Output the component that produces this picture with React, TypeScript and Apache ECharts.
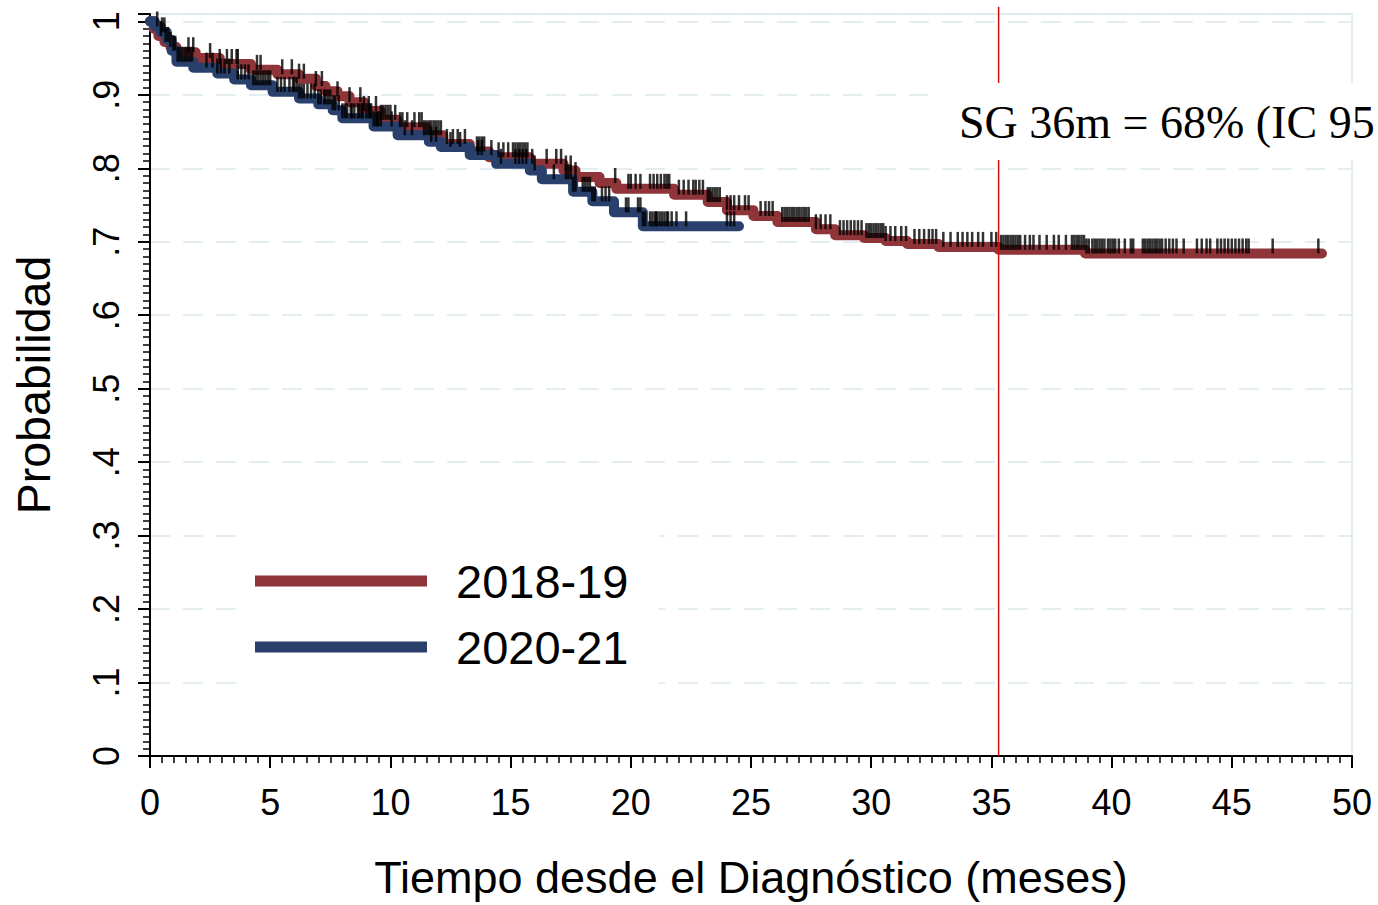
import React, { useEffect, useRef } from "react";
import * as echarts from "echarts";

// Kaplan-Meier step points (time in months, survival probability)
const redTimes = [0, 0.15, 0.35, 0.6, 0.85, 1.1, 1.9, 2.9, 4.2, 5.3, 6.2, 6.9, 7.3, 7.8, 8.3, 8.9, 9.6, 10.3, 11.5, 12.2, 13.3, 14.1, 15.8, 17.2, 17.7, 18.7, 19.4, 21.8, 23.2, 24.0, 25.1, 26.1, 27.7, 28.5, 29.7, 30.6, 31.5, 32.8, 35.3, 38.9, 48.75];
const redSurv = [1.0, 0.99, 0.98, 0.972, 0.965, 0.958, 0.95, 0.942, 0.934, 0.928, 0.922, 0.912, 0.905, 0.898, 0.89, 0.878, 0.866, 0.856, 0.845, 0.833, 0.823, 0.815, 0.806, 0.797, 0.788, 0.78, 0.772, 0.764, 0.754, 0.743, 0.735, 0.727, 0.717, 0.709, 0.705, 0.701, 0.697, 0.693, 0.689, 0.684, 0.684];

const blueTimes = [0, 0.2, 0.45, 0.7, 0.9, 1.1, 1.8, 2.8, 3.5, 4.2, 5.1, 6.2, 7.0, 7.6, 8.0, 9.3, 10.3, 11.6, 12.1, 13.3, 14.4, 15.8, 16.3, 17.6, 18.4, 19.3, 20.5, 24.5];
const blueSurv = [1.0, 0.993, 0.985, 0.975, 0.96, 0.945, 0.937, 0.929, 0.921, 0.913, 0.904, 0.895, 0.887, 0.879, 0.868, 0.857, 0.845, 0.836, 0.829, 0.818, 0.806, 0.797, 0.785, 0.768, 0.755, 0.74, 0.721, 0.721];

// Censoring times
const redCensor = [0.45, 0.65, 0.75, 0.85, 1.6, 1.8, 2.5, 2.9, 3.2, 3.4, 3.6, 3.65, 4.45, 4.6, 5.5, 5.9, 6.2, 6.4, 6.9, 7.15, 7.8, 8.3, 8.75, 8.9, 9.1, 9.4, 9.6, 9.7, 9.8, 9.9, 10.0, 10.2, 10.4, 10.5, 10.7, 11.0, 11.2, 11.3, 11.5, 11.6, 11.7, 11.8, 11.9, 12.0, 12.1, 12.35, 12.6, 12.8, 13.1, 13.6, 13.7, 13.8, 13.9, 14.5, 14.7, 14.9, 15.1, 15.2, 15.3, 15.4, 15.5, 15.6, 15.7, 15.9, 16.5, 16.9, 17.1, 17.3, 17.5, 17.7, 19.35, 19.9, 20.0, 20.2, 20.4, 20.8, 20.95, 21.1, 21.25, 21.4, 21.5, 21.6, 22.0, 22.2, 22.4, 22.6, 22.7, 22.85, 23.0, 23.2, 23.3, 23.4, 23.5, 23.6, 23.7, 24.0, 24.15, 24.3, 24.5, 24.75, 24.9, 25.4, 25.6, 25.75, 25.9, 26.3, 26.4, 26.5, 26.6, 26.7, 26.8, 26.9, 27.0, 27.1, 27.2, 27.3, 27.4, 27.7, 27.9, 28.1, 28.3, 28.7, 28.85, 29.0, 29.15, 29.3, 29.45, 29.6, 29.8, 29.9, 30.0, 30.1, 30.2, 30.3, 30.4, 30.5, 30.6, 30.8, 31.0, 31.25, 31.45, 31.8, 32.0, 32.2, 32.4, 32.55, 32.7, 33.0, 33.3, 33.6, 33.8, 34.0, 34.2, 34.45, 34.65, 35.0, 35.2, 35.4, 35.5, 35.6, 35.7, 35.8, 35.9, 36.0, 36.1, 36.2, 36.4, 36.6, 36.75, 37.0, 37.3, 37.6, 37.8, 38.1, 38.35, 38.45, 38.55, 38.65, 38.75, 38.85, 38.95, 39.05, 39.2, 39.3, 39.4, 39.5, 39.6, 39.7, 39.85, 39.95, 40.05, 40.15, 40.3, 40.55, 40.8, 40.9, 41.3, 41.4, 41.5, 41.6, 41.7, 41.8, 41.9, 42.0, 42.1, 42.25, 42.4, 42.55, 42.7, 43.0, 43.55, 43.75, 43.95, 44.1, 44.4, 44.55, 44.7, 44.85, 45.0, 45.15, 45.3, 45.45, 45.6, 45.7, 46.7, 48.6];
const blueCensor = [0.3, 0.5, 0.6, 0.97, 1.05, 1.15, 1.25, 1.35, 1.45, 1.55, 1.65, 1.75, 2.35, 2.6, 2.8, 2.95, 3.1, 3.3, 3.65, 3.8, 3.95, 4.1, 4.3, 4.4, 4.5, 4.6, 4.7, 4.8, 4.9, 5.0, 5.3, 5.45, 5.6, 5.8, 5.95, 6.0, 6.1, 6.2, 6.3, 6.4, 6.55, 6.7, 6.85, 7.0, 7.1, 7.25, 7.3, 7.4, 7.5, 7.6, 7.7, 7.85, 8.0, 8.1, 8.2, 8.35, 8.4, 8.5, 8.65, 8.7, 8.8, 8.85, 9.0, 9.1, 9.15, 9.2, 9.3, 9.4, 9.45, 9.5, 9.6, 10.05, 10.6, 10.9, 11.4, 11.7, 11.9, 12.5, 12.9, 13.65, 13.8, 14.2, 14.6, 15.2, 15.35, 15.5, 15.65, 16.0, 16.8, 17.3, 17.4, 17.5, 17.6, 17.7, 18.0, 18.1, 18.2, 18.3, 18.4, 18.5, 18.8, 18.95, 19.1, 19.8, 19.9, 20.3, 20.4, 20.5, 20.6, 20.8, 20.9, 21.0, 21.05, 21.1, 21.2, 21.3, 21.4, 21.5, 21.55, 21.7, 21.9, 22.3, 24.0, 24.15, 24.3];

const seriesNames = ["2018-19", "2020-21"];
const refTime = 35.3;
const annotation = "SG 36m = 68% (IC 95";
const xTitle = "Tiempo desde el Diagnóstico (meses)";
const yTitle = "Probabilidad";

const RED = "#8F3439";
const BLUE = "#293F6C";
const FONT = "'Liberation Sans', Arial, Helvetica, sans-serif";

function stepAt(times: number[], surv: number[], t: number) {
  let s = surv[0];
  for (let i = 0; i < times.length; i++) if (times[i] <= t) s = surv[i];
  return s;
}

export default function App() {
  const ref = useRef<HTMLDivElement>(null);
  useEffect(() => {
    if (!ref.current) return;
    const chart = echarts.init(ref.current, null, { renderer: "svg" });
    const redData = redTimes.map((t, i) => [t, redSurv[i]]);
    const blueData = blueTimes.map((t, i) => [t, blueSurv[i]]);
    const redC = redCensor.map((t) => [t, stepAt(redTimes, redSurv, t)]);
    const blueC = blueCensor.map((t) => [t, stepAt(blueTimes, blueSurv, t)]);
    const tickSymbol = {
      type: "scatter",
      symbol: "rect",
      symbolSize: [2.5, 15],
      symbolOffset: [0, -7.5],
      itemStyle: { color: "#000" },
      silent: true,
      z: 5,
    };
    chart.setOption({
      animation: false,
      backgroundColor: "#fff",
      grid: {
        left: 150,
        right: 26,
        top: 14,
        bottom: 149,
        containLabel: false,
        outerBoundsMode: "none",
        show: true,
        borderColor: "#E3ECF0",
        borderWidth: 2,
        backgroundColor: "transparent",
      },
      legend: {
        data: seriesNames,
        orient: "vertical",
        left: 240,
        top: 520,
        backgroundColor: "#fff",
        padding: [33, 30, 24, 15],
        itemWidth: 172,
        itemHeight: 11,
        itemGap: 10,
        icon: "rect",
        textStyle: {
          fontFamily: FONT,
          fontSize: 47,
          lineHeight: 56,
          color: "#000",
          padding: [0, 0, 0, 24],
        },
        selectedMode: false,
      },
      xAxis: {
        type: "value",
        min: 0,
        max: 50,
        interval: 5,
        name: xTitle,
        nameLocation: "middle",
        nameGap: 99,
        nameTextStyle: { fontFamily: FONT, fontSize: 45, color: "#000" },
        axisLine: { show: true, onZero: false, lineStyle: { color: "#000", width: 2 } },
        axisTick: { show: true, length: 12, lineStyle: { color: "#000", width: 2 } },
        minorTick: { show: true, splitNumber: 10, length: 7, lineStyle: { color: "#000", width: 1.5 } },
        axisLabel: { fontFamily: FONT, fontSize: 36, color: "#000", margin: 28 },
        splitLine: { show: false },
      },
      yAxis: {
        type: "value",
        min: 0,
        max: 1.01,
        interval: 0.1,
        name: yTitle,
        nameLocation: "middle",
        nameGap: 93,
        nameRotate: 90,
        nameTextStyle: { fontFamily: FONT, fontSize: 46.5, color: "#000" },
        axisLine: { show: true, onZero: false, lineStyle: { color: "#000", width: 2 } },
        axisTick: { show: true, length: 12, lineStyle: { color: "#000", width: 2 } },
        minorTick: { show: true, splitNumber: 10, length: 7, lineStyle: { color: "#000", width: 1.5 } },
        axisLabel: {
          fontFamily: FONT,
          fontSize: 36,
          color: "#000",
          rotate: 90,
          margin: 26,
          showMaxLabel: false,
          formatter: (v: number) => {
            if (v === 0) return "0";
            if (Math.abs(v - 1) < 1e-9) return "1";
            if (v > 1) return "";
            return "." + Math.round(v * 10);
          },
        },
        splitLine: { show: true, lineStyle: { color: "#DCE7EC", width: 1.5, type: [20, 13] } },
      },
      graphic: [
        {
          type: "rect",
          z: 100,
          shape: { x: 928, y: 83, width: 450, height: 77 },
          style: { fill: "#fff" },
        },
        {
          type: "text",
          z: 101,
          x: 959,
          y: 122,
          style: {
            text: annotation,
            fill: "#000",
            font: "46px 'Liberation Serif', 'Times New Roman', serif",
            textVerticalAlign: "middle",
            verticalAlign: "middle",
          },
        },
      ],
      series: [
        {
          name: seriesNames[0],
          type: "line",
          step: "end",
          data: redData,
          showSymbol: false,
          symbol: "none",
          color: RED,
          lineStyle: { color: RED, width: 10, cap: "round", join: "round" },
          z: 2,
        },
        {
          name: seriesNames[1],
          type: "line",
          step: "end",
          data: blueData,
          showSymbol: false,
          symbol: "none",
          color: BLUE,
          lineStyle: { color: BLUE, width: 10, cap: "round", join: "round" },
          z: 3,
        },
        { ...tickSymbol, name: "c1", data: redC },
        { ...tickSymbol, name: "c2", data: blueC },
        {
          name: "ref",
          type: "line",
          data: [
            [refTime, 0],
            [refTime, 1.02],
          ],
          symbol: "none",
          clip: false,
          lineStyle: { color: "#CC1010", width: 1.5 },
          z: 6,
        },
      ],
    } as any);
    return () => chart.dispose();
  }, []);
  return (
    <div
      ref={ref}
      style={{ position: "absolute", left: 0, top: 0, width: 1378, height: 905, overflow: "hidden" }}
    />
  );
}
